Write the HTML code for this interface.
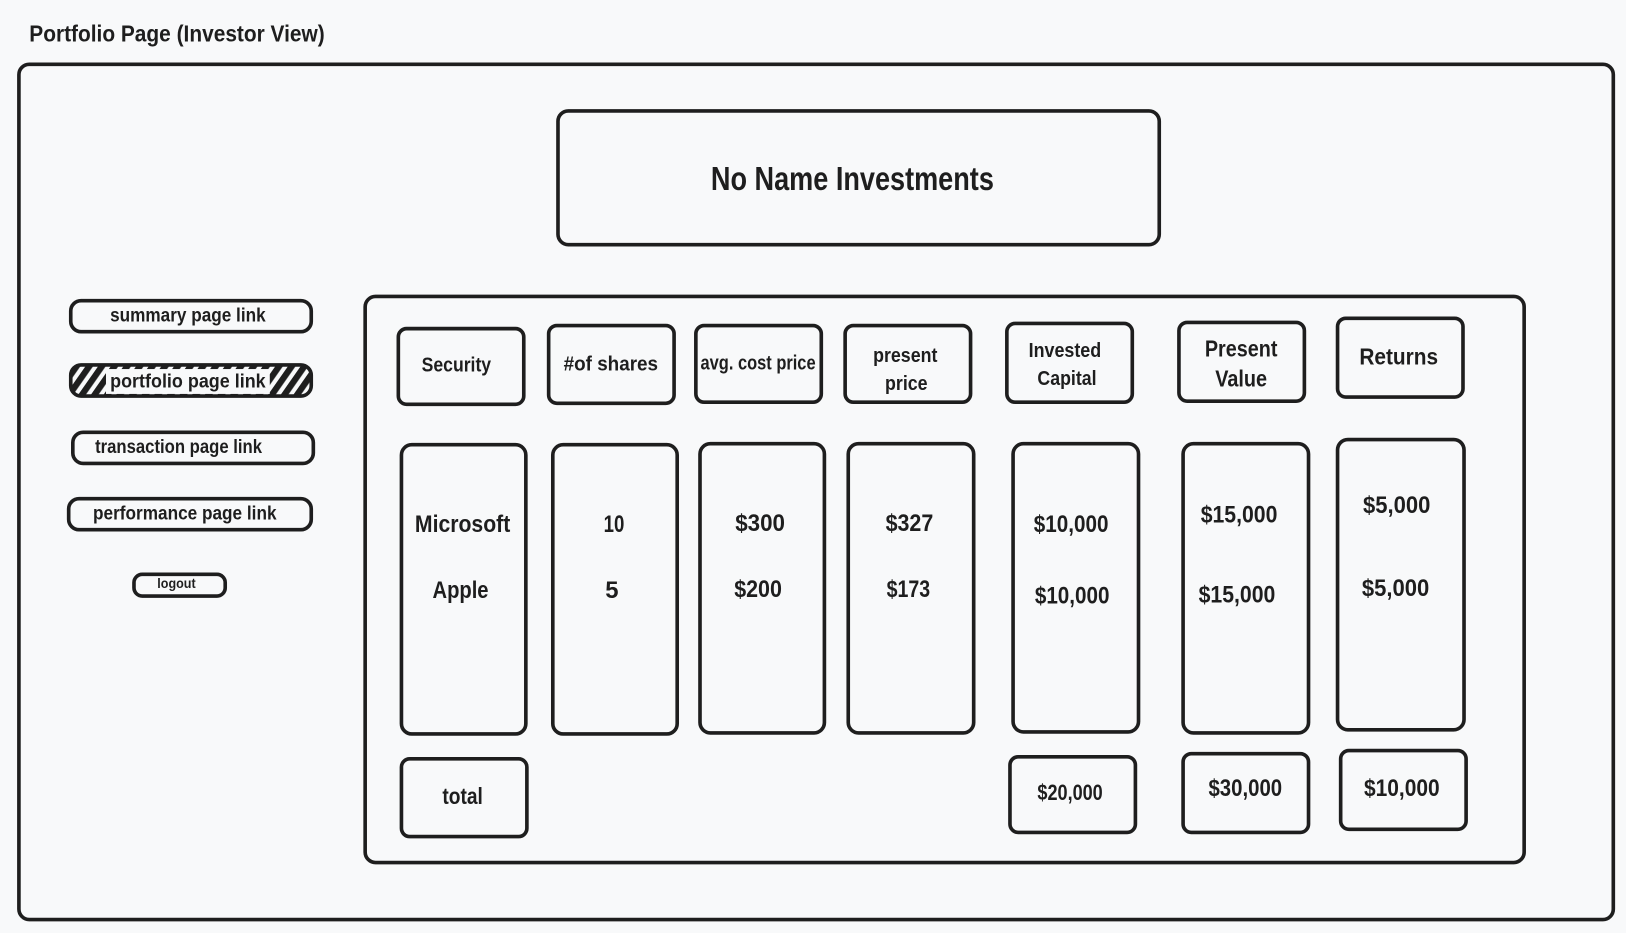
<!DOCTYPE html>
<html><head><meta charset="utf-8"><style>
html,body{margin:0;padding:0;background:#f8f9fa;}
svg{display:block}
text{font-family:"Liberation Sans Narrow","Liberation Sans",sans-serif;font-weight:bold;fill:#1e1e1e;text-anchor:middle;dominant-baseline:middle;}
</style></head><body>
<svg width="1626" height="933" viewBox="0 0 1568 900" xmlns="http://www.w3.org/2000/svg">
<defs>
<pattern id="h" patternUnits="userSpaceOnUse" width="10" height="10" patternTransform="rotate(35)">
<rect width="10" height="10" fill="#f8f9fa"/><rect width="6" height="10" fill="#1e1e1e"/>
</pattern>
</defs>
<rect width="1568" height="900" fill="#f8f9fa"/>
<g fill="none" stroke="#1e1e1e" stroke-width="3.5">
<rect x="18" y="62" width="1538" height="825" rx="10"/>
<rect x="538" y="107" width="580" height="129" rx="10"/>
<rect x="352" y="286" width="1118" height="546" rx="10"/>
<rect x="68" y="290" width="232" height="30" rx="10"/>
<rect x="68" y="352" width="232" height="30" rx="10" fill="url(#h)"/>
<rect x="70" y="417" width="232" height="30" rx="10"/>
<rect x="66" y="481" width="234" height="30" rx="10"/>
<rect x="129" y="554" width="88" height="21" rx="8"/>
<rect x="384" y="317" width="121" height="73" rx="8"/>
<rect x="529" y="314" width="121" height="75" rx="8"/>
<rect x="671" y="314" width="121" height="74" rx="8"/>
<rect x="815" y="314" width="121" height="74" rx="8"/>
<rect x="971" y="312" width="121" height="76" rx="8"/>
<rect x="1137" y="311" width="121" height="76" rx="8"/>
<rect x="1290" y="307" width="121" height="76" rx="8"/>
<rect x="387" y="429" width="120" height="279" rx="10"/>
<rect x="533" y="429" width="120" height="279" rx="10"/>
<rect x="675" y="428" width="120" height="279" rx="10"/>
<rect x="818" y="428" width="121" height="279" rx="10"/>
<rect x="977" y="428" width="121" height="278" rx="10"/>
<rect x="1141" y="428" width="121" height="279" rx="10"/>
<rect x="1290" y="424" width="122" height="280" rx="10"/>
<rect x="387" y="732" width="121" height="75" rx="8"/>
<rect x="974" y="730" width="121" height="73" rx="8"/>
<rect x="1141" y="727" width="121" height="76" rx="8"/>
<rect x="1293" y="724" width="121" height="76" rx="8"/>
</g>
<rect x="102" y="356" width="158" height="24" fill="#f8f9fa"/>
<text x="28" y="34" font-size="22" style="text-anchor:start" textLength="285" lengthAdjust="spacingAndGlyphs">Portfolio Page (Investor View)</text>
<text x="822" y="175" font-size="32" textLength="273" lengthAdjust="spacingAndGlyphs">No Name Investments</text>
<text x="181" y="305" font-size="19" textLength="150" lengthAdjust="spacingAndGlyphs">summary page link</text>
<text x="181" y="369" font-size="19" textLength="150" lengthAdjust="spacingAndGlyphs">portfolio page link</text>
<text x="172" y="432" font-size="19" textLength="161" lengthAdjust="spacingAndGlyphs">transaction page link</text>
<text x="178" y="496" font-size="19" textLength="177" lengthAdjust="spacingAndGlyphs">performance page link</text>
<text x="170" y="564" font-size="13" textLength="37" lengthAdjust="spacingAndGlyphs">logout</text>
<text x="440" y="353" font-size="20" textLength="67" lengthAdjust="spacingAndGlyphs">Security</text>
<text x="589" y="352" font-size="20" textLength="91" lengthAdjust="spacingAndGlyphs">#of shares</text>
<text x="731" y="351" font-size="20" textLength="111" lengthAdjust="spacingAndGlyphs">avg. cost price</text>
<text x="873" y="344" font-size="20" textLength="62" lengthAdjust="spacingAndGlyphs">present</text>
<text x="874" y="371" font-size="20" textLength="41" lengthAdjust="spacingAndGlyphs">price</text>
<text x="1027" y="339" font-size="20" textLength="70" lengthAdjust="spacingAndGlyphs">Invested</text>
<text x="1029" y="366" font-size="20" textLength="57" lengthAdjust="spacingAndGlyphs">Capital</text>
<text x="1197" y="338" font-size="22" textLength="70" lengthAdjust="spacingAndGlyphs">Present</text>
<text x="1197" y="367" font-size="22" textLength="50" lengthAdjust="spacingAndGlyphs">Value</text>
<text x="1349" y="346" font-size="22" textLength="76" lengthAdjust="spacingAndGlyphs">Returns</text>
<text x="446" y="507" font-size="23" textLength="92" lengthAdjust="spacingAndGlyphs">Microsoft</text>
<text x="444" y="571" font-size="23" textLength="54" lengthAdjust="spacingAndGlyphs">Apple</text>
<text x="592" y="507" font-size="23" textLength="20" lengthAdjust="spacingAndGlyphs">10</text>
<text x="590" y="571" font-size="23">5</text>
<text x="733" y="506" font-size="23" textLength="48" lengthAdjust="spacingAndGlyphs">$300</text>
<text x="731" y="570" font-size="23" textLength="46" lengthAdjust="spacingAndGlyphs">$200</text>
<text x="877" y="506" font-size="23" textLength="46" lengthAdjust="spacingAndGlyphs">$327</text>
<text x="876" y="570" font-size="23" textLength="42" lengthAdjust="spacingAndGlyphs">$173</text>
<text x="1033" y="507" font-size="23" textLength="72" lengthAdjust="spacingAndGlyphs">$10,000</text>
<text x="1034" y="576" font-size="23" textLength="72" lengthAdjust="spacingAndGlyphs">$10,000</text>
<text x="1195" y="498" font-size="23" textLength="74" lengthAdjust="spacingAndGlyphs">$15,000</text>
<text x="1193" y="575" font-size="23" textLength="74" lengthAdjust="spacingAndGlyphs">$15,000</text>
<text x="1347" y="489" font-size="23" textLength="65" lengthAdjust="spacingAndGlyphs">$5,000</text>
<text x="1346" y="569" font-size="23" textLength="65" lengthAdjust="spacingAndGlyphs">$5,000</text>
<text x="446" y="770" font-size="22" textLength="39" lengthAdjust="spacingAndGlyphs">total</text>
<text x="1032" y="766" font-size="21" textLength="63" lengthAdjust="spacingAndGlyphs">$20,000</text>
<text x="1201" y="762" font-size="23" textLength="71" lengthAdjust="spacingAndGlyphs">$30,000</text>
<text x="1352" y="762" font-size="23" textLength="73" lengthAdjust="spacingAndGlyphs">$10,000</text>
</svg>
</body></html>
